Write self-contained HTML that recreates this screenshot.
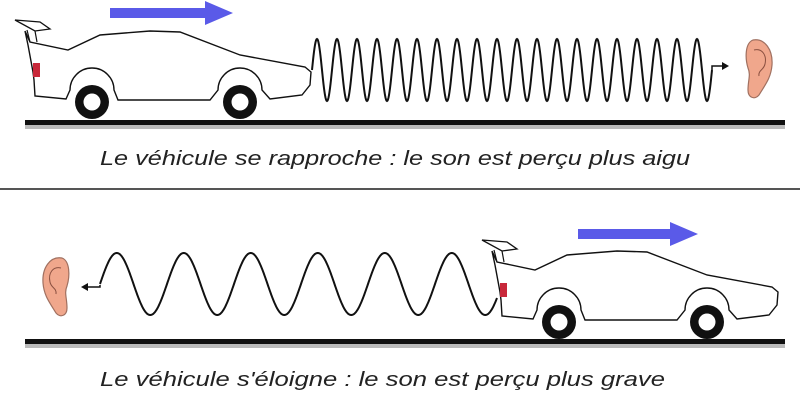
<!DOCTYPE html>
<html><head><meta charset="utf-8"><style>
html,body{margin:0;padding:0;background:#fff;width:800px;height:400px;overflow:hidden}
svg{display:block}
text{font-family:"Liberation Sans",sans-serif;font-style:italic;font-size:20px;fill:#222}
</style></head><body>
<svg id="s" width="800" height="400" viewBox="0 0 800 400">
<defs>
<g id="car">
<path d="M15,20 L40,22 L50,29 L35,31 Z" fill="#fff" stroke="#111" stroke-width="1.3"/>
<path d="M27,30 L30,42 M35,31 L37,42" stroke="#111" stroke-width="1.2" fill="none"/>
<path d="M25,31 L30,42 L68,50 L100,35 L150,31 L180,32 L240,55 L305,67 L311,72 L310,85 L302,95 L270,99 L262,90 A22,22 0 0 0 218,90 L210,100 L118,100 L114,90 A22,22 0 0 0 70,90 L66,99 L35,96 L34,80 L33,72 L28,45 Z" fill="#fff" stroke="#111" stroke-width="1.4"/>
<rect x="33" y="63" width="7" height="14" fill="#c8283a"/>
<circle cx="92" cy="102" r="17" fill="#111"/><circle cx="92" cy="102" r="8.5" fill="#fff"/>
<circle cx="240" cy="102" r="17" fill="#111"/><circle cx="240" cy="102" r="8.5" fill="#fff"/>
</g>
<g id="ear">
<path d="M8,0 C20,-2 28,10 27,25 C26,38 20,45 14,55 C10,60 3,58 3,50 C3,40 6,35 3,28 C0,18 0,3 8,0 Z" fill="#f0a78c" stroke="#a07060" stroke-width="1.2"/>
<path d="M9,10 C17,8 22,15 20,24 C19,30 13,30 14,36" fill="none" stroke="#8a5040" stroke-width="1"/>
</g>
</defs>
<!-- top -->
<rect x="25" y="120" width="760" height="5" fill="#111"/>
<rect x="25" y="125" width="760" height="4" fill="#bbb"/>
<polygon points="110,8 205,8 205,1 233,13 205,25 205,18 110,18" fill="#5a5ae8"/>
<use href="#car"/>
<path id="w1" fill="none" stroke="#111" stroke-width="2"/>
<path d="M712,70 L712,66 L724,66" fill="none" stroke="#111" stroke-width="1.5"/>
<polygon points="729,66 722,62 722,70" fill="#111"/>
<use href="#ear" transform="translate(745,40)"/>
<text x="100" y="165" textLength="590" lengthAdjust="spacingAndGlyphs">Le véhicule se rapproche : le son est perçu plus aigu</text>
<rect x="0" y="188" width="800" height="2" fill="#555"/>
<!-- bottom -->
<rect x="25" y="339" width="760" height="5" fill="#111"/>
<rect x="25" y="344" width="760" height="4" fill="#bbb"/>
<polygon points="578,229 670,229 670,222 698,234 670,246 670,239 578,239" fill="#5a5ae8"/>
<use href="#car" transform="translate(467,220)"/>
<path id="w2" fill="none" stroke="#111" stroke-width="2"/>
<path d="M100,285 L100,287 L86,287" fill="none" stroke="#111" stroke-width="1.5"/>
<polygon points="81,287 88,283 88,291" fill="#111"/>
<use href="#ear" transform="translate(70,258) scale(-1,1)"/>
<text x="100" y="386" textLength="565" lengthAdjust="spacingAndGlyphs">Le véhicule s'éloigne : le son est perçu plus grave</text>
</svg>
<script>
function wave(x0,x1,cy,a,p,ph){var d="";for(var x=x0;x<=x1;x+=0.5){var y=cy-a*Math.sin((x-x0)/p*2*Math.PI+ph);d+=(d?"L":"M")+x.toFixed(1)+","+y.toFixed(1);}return d;}
document.getElementById("w1").setAttribute("d",wave(312,712,70,31,20,0));
document.getElementById("w2").setAttribute("d",wave(100,497,284,31,67,0));
</script>
</body></html>
